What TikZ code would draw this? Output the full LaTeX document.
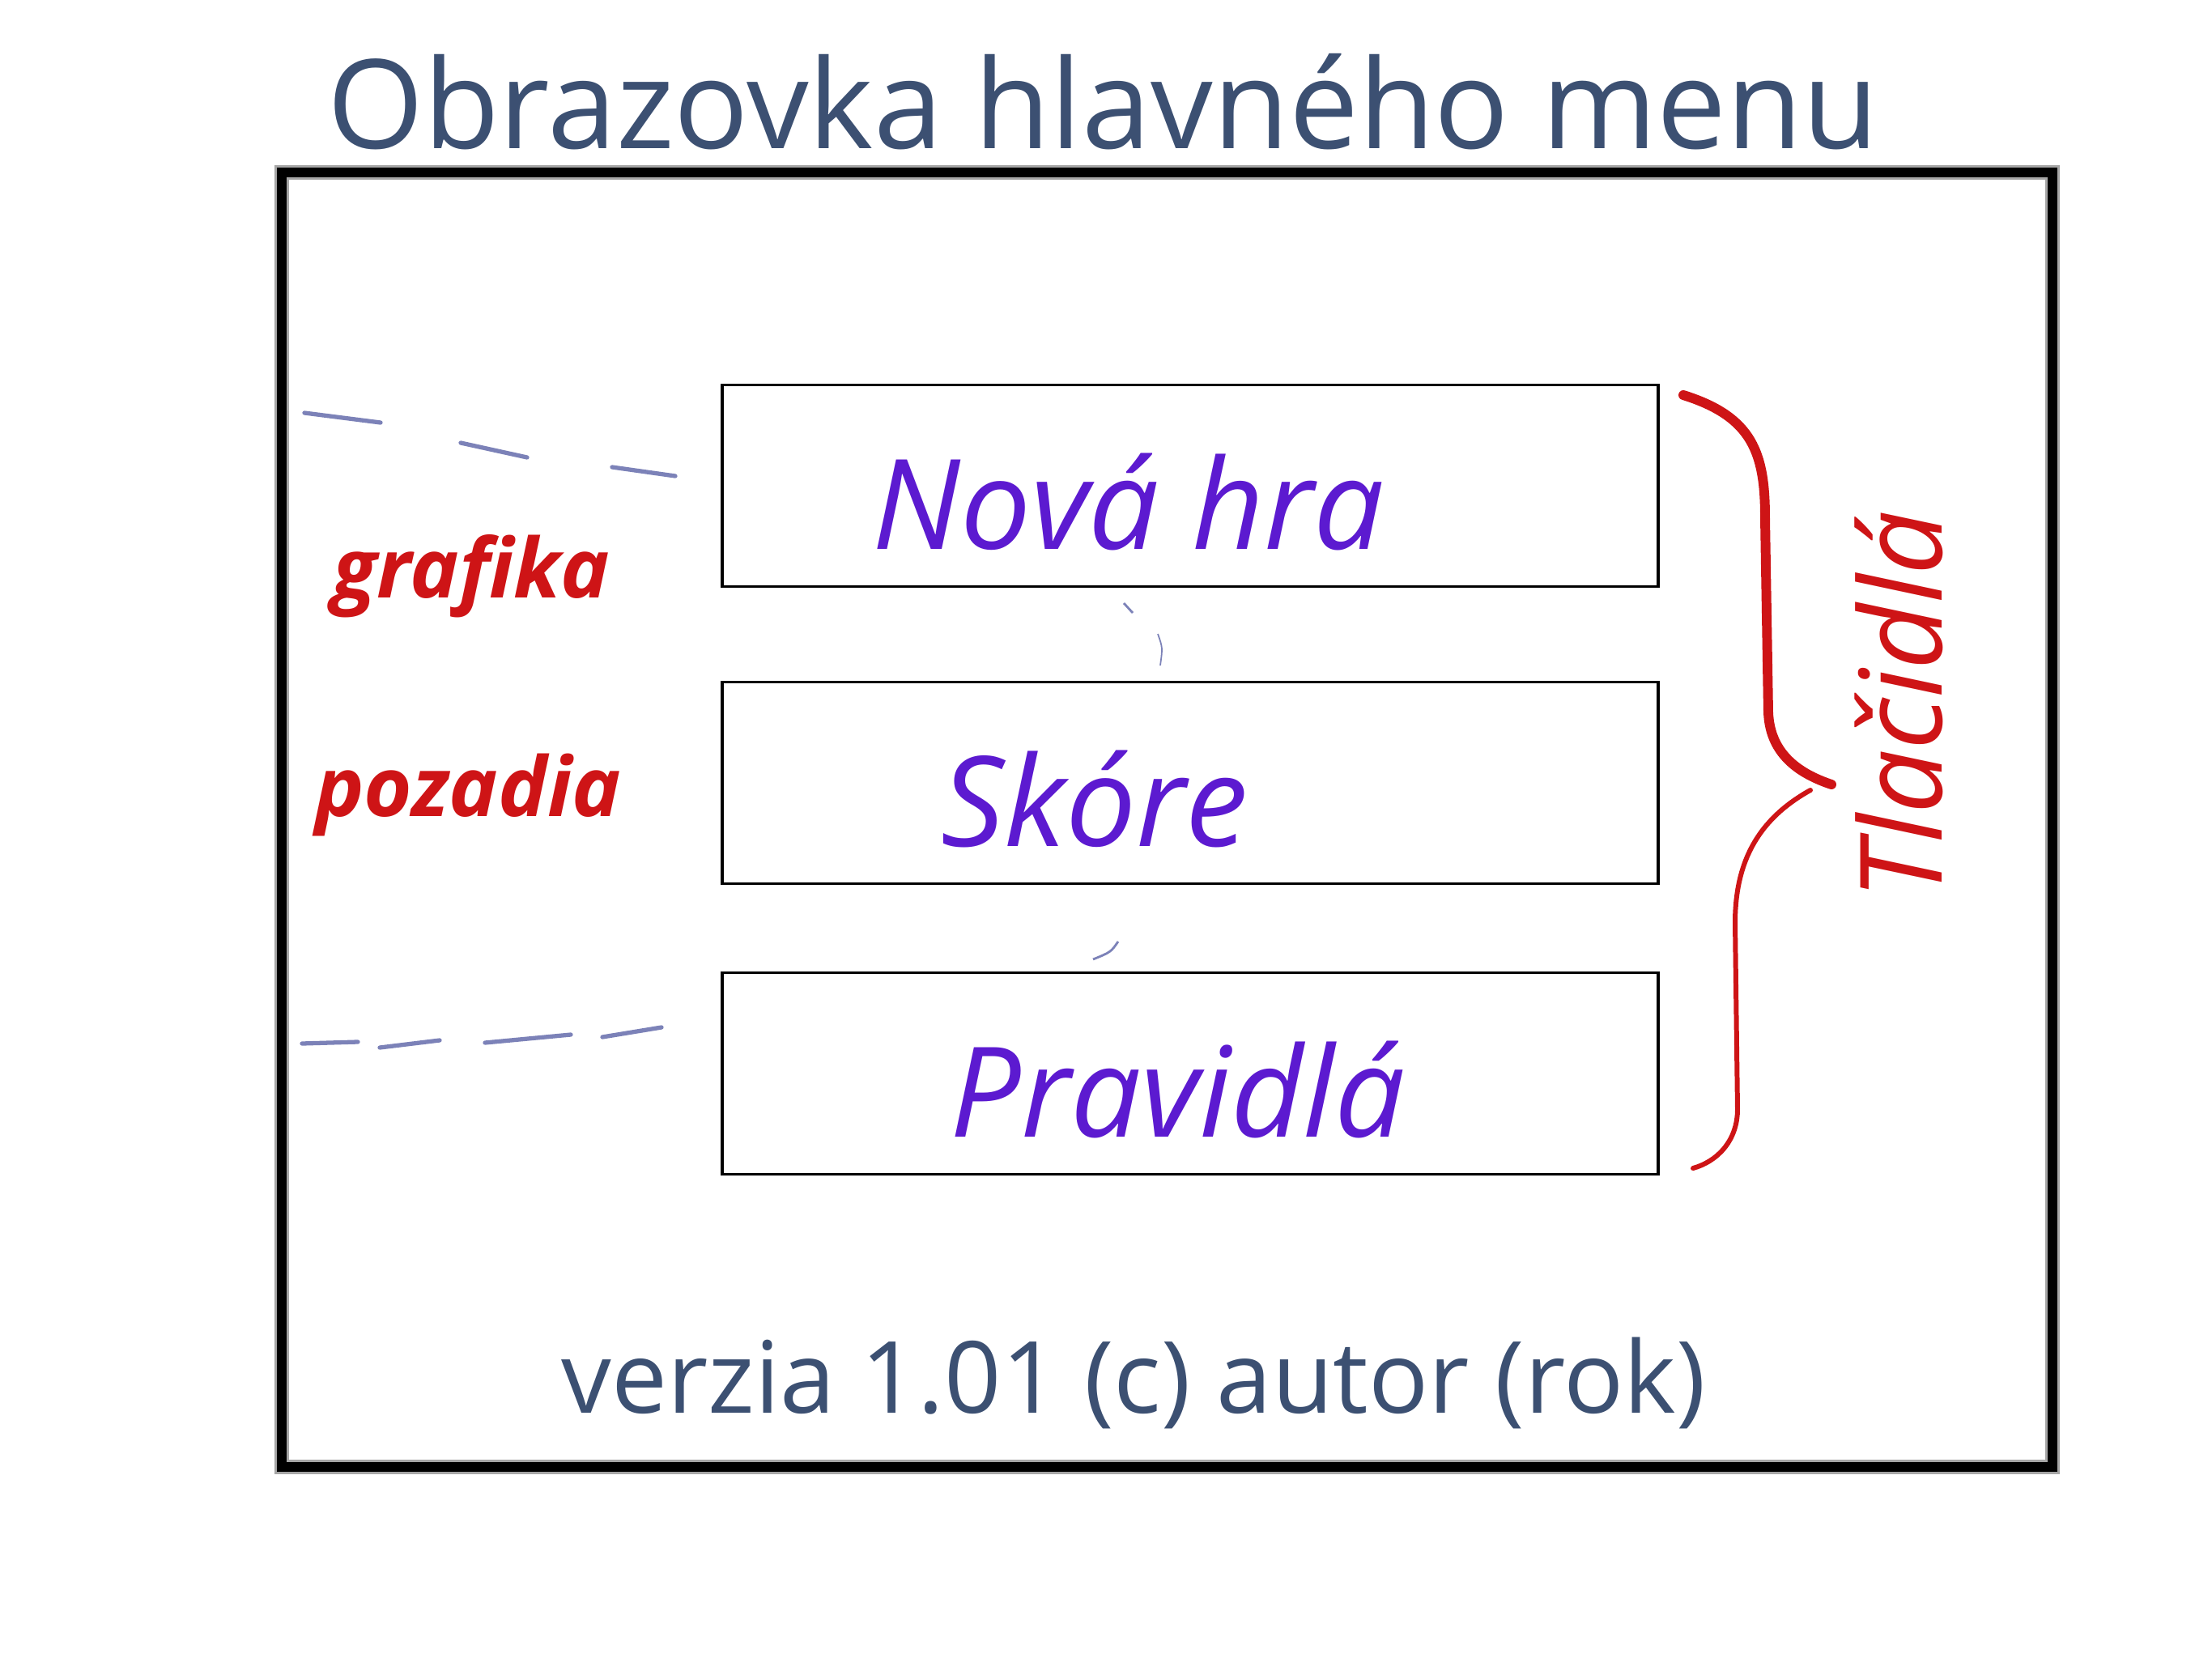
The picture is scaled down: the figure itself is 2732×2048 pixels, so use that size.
\documentclass[tikz,border=0pt]{standalone}
\usepackage{fontspec}
\setmainfont{Open Sans}
\definecolor{slate}{RGB}{60,80,114}
\definecolor{violet}{RGB}{92,26,208}
\definecolor{marker}{RGB}{206,20,22}
\definecolor{pencil}{RGB}{124,130,184}
\tikzset{
  button/.style={draw, line width=1pt, minimum width=11.55cm, minimum height=2.49cm, inner sep=0pt},
  label/.style={text=violet, font=\itshape\fontsize{44}{48}\selectfont},
  note/.style={text=marker, font=\bfseries\itshape\fontsize{29}{32}\selectfont},
  guide/.style={pencil, line width=1.5pt, line cap=round}
}
\begin{document}
\begin{tikzpicture}[x=0.01cm, y=-0.01cm]
  \useasboundingbox (0,0) rectangle (2732,2048);
  % Title
  \node[text=slate, font=\fontsize{43.5}{48}\selectfont, anchor=base] (title) at (1362,183) {Obrazovka hlavného menu};

  % Screen frame
  \draw[black!35, line width=5pt] (348,213) rectangle (2535,1812);
  \draw[line width=3.4pt] (348,213) rectangle (2535,1812);

  % Buttons
  \foreach \name/\y/\tx/\txt in {nova/600/1394/Nová hra, skore/967/1352/Skóre, pravidla/1326/1455/Pravidlá} {
    \node[button] (\name) at (1470,\y) {};
    \node[label] (\name-txt) at (\tx,\y+20) {\txt};
  }

  % Background area, drawn as loose dashes
  \foreach \ax/\ay/\bx/\by in {376/510/470/522, 569/547/651/565, 756/577/834/588,
      373/1289/442/1287, 469/1294/543/1285, 599/1288/705/1278, 744/1281/817/1269} {
    \draw[guide] (\ax,\ay) -- (\bx,\by);
  }
  \node[note, anchor=base] (grafika) at (582,738) {grafika};
  \node[note, anchor=base] (pozadia) at (578,1008) {pozadia};

  % Faint marks between buttons
  \draw[pencil, line width=0.8pt] (1388,745) -- (1399,757);
  \draw[pencil, line width=0.5pt] (1430,783) .. controls (1436,800) .. (1433,822);
  \draw[pencil, line width=0.8pt] (1350,1185) .. controls (1372,1176) .. (1381,1163);

  % Brace over the buttons
  \coordinate (tip) at (2262,969);
  \draw[marker, line width=3.4pt, line cap=round] (2079,488) .. controls (2165,515) and (2180,560) .. (2180,640)
    -- (2184,880) .. controls (2186,930) and (2220,955) .. (tip);
  \draw[marker, line width=1.7pt, line cap=round] (2236,976) .. controls (2175,1010) and (2143,1060) .. (2143,1140)
    -- (2146,1370) .. controls (2146,1410) and (2120,1435) .. (2091,1443);
  \node[note, rotate=90, font=\itshape\fontsize{40}{44}\selectfont] (tlacidla) at (2345,871) {Tlačidlá};

  % Footer
  \node[text=slate, font=\fontsize{35}{40}\selectfont] (verzia) at (1400,1708) {verzia 1.01 (c) autor (rok)};
\end{tikzpicture}
\end{document}
